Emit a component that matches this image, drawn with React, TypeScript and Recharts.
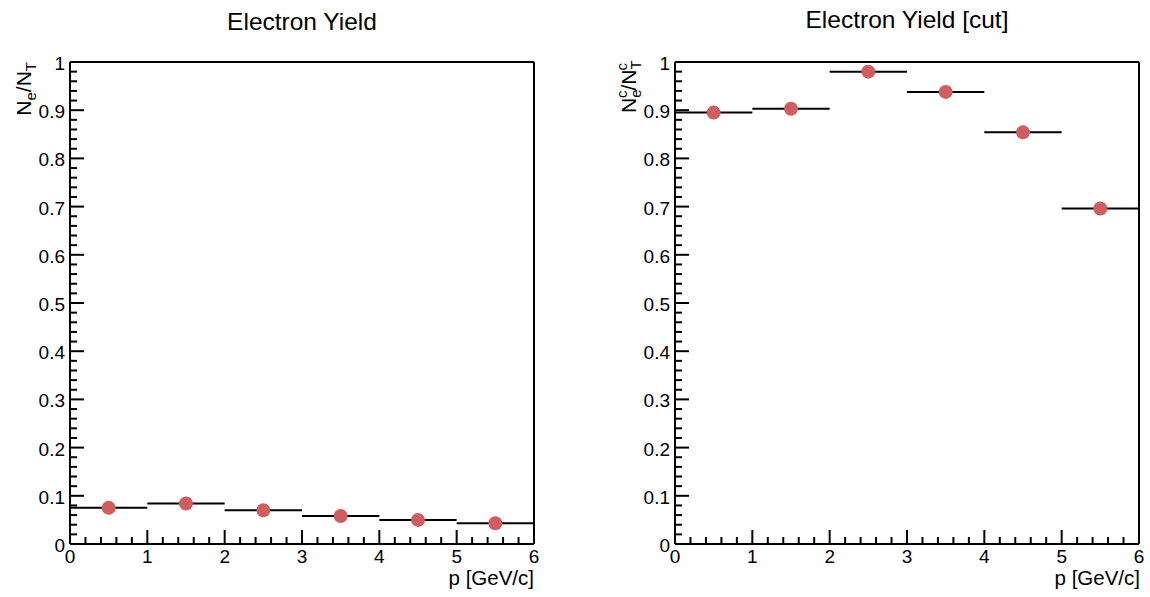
import React from 'react';
import { ComposedChart, Scatter, XAxis, YAxis, ErrorBar } from 'recharts';

// momentum bin centres and half widths (GeV/c)
const pBins = [0.5, 1.5, 2.5, 3.5, 4.5, 5.5];
const pHalfWidth = [0.5, 0.5, 0.5, 0.5, 0.5, 0.5];

// N_e / N_T, all candidates
const yieldAll = [0.075, 0.084, 0.07, 0.058, 0.05, 0.043];
// N_e^c / N_T^c, after cuts
const yieldCut = [0.895, 0.903, 0.98, 0.938, 0.854, 0.696];

const xTicks = [0, 0.2, 0.4, 0.6, 0.8, 1, 1.2, 1.4, 1.6, 1.8, 2, 2.2, 2.4, 2.6, 2.8, 3, 3.2, 3.4, 3.6, 3.8, 4, 4.2, 4.4, 4.6, 4.8, 5, 5.2, 5.4, 5.6, 5.8, 6];
const yTicks = Array.from({ length: 51 }, (_, i) => i / 50);

const FONT = '"Liberation Sans", Arial, Helvetica, sans-serif';
const MARKER = '#cf5e61';
const W = 575;
const H = 597;

const isMajor = (v: number, step: number) => Math.abs(v / step - Math.round(v / step)) < 1e-6;

function XTick({ x, y, payload }: any) {
  const v = payload.value;
  const major = isMajor(v, 1);
  return (
    <g>
      <line x1={x} x2={x} y1={y} y2={y - (major ? 14 : 7)} stroke="#000" strokeWidth={2} />
      {major && (
        <text x={x} y={y + 19} textAnchor="middle" fontSize={19} fontFamily={FONT} fill="#000">
          {Math.round(v)}
        </text>
      )}
    </g>
  );
}

function YTick({ x, y, payload }: any) {
  const v = payload.value;
  const major = isMajor(v, 0.1);
  return (
    <g>
      <line x1={x} x2={x + (major ? 14 : 7)} y1={y} y2={y} stroke="#000" strokeWidth={2} />
      {major && (
        <text x={x - 5} y={y + 8} textAnchor="end" fontSize={19} fontFamily={FONT} fill="#000">
          {String(Number(v.toFixed(1)))}
        </text>
      )}
    </g>
  );
}

const Dot = (props: any) => <circle cx={props.cx} cy={props.cy} r={7} fill={MARKER} />;

function YieldPanel({ values, axisWidth, marginRight }: { values: number[]; axisWidth: number; marginRight: number }) {
  const rows = pBins.map((p, i) => ({ p, xerr: pHalfWidth[i], v: values[i] }));
  return (
    <ComposedChart width={W} height={H} data={rows} margin={{ top: 52, bottom: 0, left: 0, right: marginRight - 10 }}>
      <XAxis xAxisId="b" type="number" dataKey="p" domain={[0, 6]} ticks={xTicks} interval={0} height={53}
        tickSize={0} tickMargin={0} tickLine={false} axisLine={{ stroke: '#000', strokeWidth: 2 }} tick={XTick} allowDataOverflow />
      <XAxis xAxisId="t" orientation="top" type="number" domain={[0, 6]} height={10} tick={false} tickLine={false}
        axisLine={{ stroke: '#000', strokeWidth: 2 }} />
      <YAxis yAxisId="l" type="number" dataKey="v" domain={[0, 1]} ticks={yTicks} interval={0} width={axisWidth}
        tickSize={0} tickMargin={0} tickLine={false} axisLine={{ stroke: '#000', strokeWidth: 2 }} tick={YTick} allowDataOverflow />
      <YAxis yAxisId="r" orientation="right" type="number" domain={[0, 1]} width={10} tick={false} tickLine={false}
        axisLine={{ stroke: '#000', strokeWidth: 2 }} />
      <Scatter xAxisId="b" yAxisId="l" dataKey="v" shape={Dot} isAnimationActive={false}>
        <ErrorBar dataKey="xerr" direction="x" width={0} stroke="#000" strokeWidth={2} isAnimationActive={false} />
      </Scatter>
    </ComposedChart>
  );
}

export default function App() {
  return (
    <div style={{ position: 'absolute', left: 0, top: 0, width: 1150, height: 597, background: '#fff' }}>
      <div style={{ position: 'absolute', left: 0, top: 0 }}>
        <YieldPanel values={yieldAll} axisWidth={70} marginRight={41} />
      </div>
      <div style={{ position: 'absolute', left: 575, top: 0 }}>
        <YieldPanel values={yieldCut} axisWidth={100} marginRight={11} />
      </div>
      <svg width={1150} height={597} style={{ position: 'absolute', left: 0, top: 0, pointerEvents: 'none' }} fontFamily={FONT} fill="#000">
        <text x={302} y={30} textAnchor="middle" fontSize={24.5}>Electron Yield</text>
        <text x={907} y={28} textAnchor="middle" fontSize={24.5}>Electron Yield [cut]</text>
        <text x={534} y={585} textAnchor="end" fontSize={20.5}>p [GeV/c]</text>
        <text x={1140} y={585} textAnchor="end" fontSize={20.5}>p [GeV/c]</text>
        <text x={0} y={0} transform="translate(31,62) rotate(-90)" textAnchor="end" fontSize={21}>
          N<tspan fontSize={15} dy={5}>e</tspan><tspan dy={-5}>/N</tspan><tspan fontSize={15} dy={5}>T</tspan>
        </text>
        <text x={0} y={0} transform="translate(636,62) rotate(-90)" textAnchor="end" fontSize={21}>
          N<tspan fontSize={15} dy={5}>e</tspan><tspan fontSize={15} dx={-8.5} dy={-14}>c</tspan>
          <tspan dy={9}>/N</tspan><tspan fontSize={15} dy={5}>T</tspan><tspan fontSize={15} dx={-8.5} dy={-14}>c</tspan>
        </text>
      </svg>
    </div>
  );
}
